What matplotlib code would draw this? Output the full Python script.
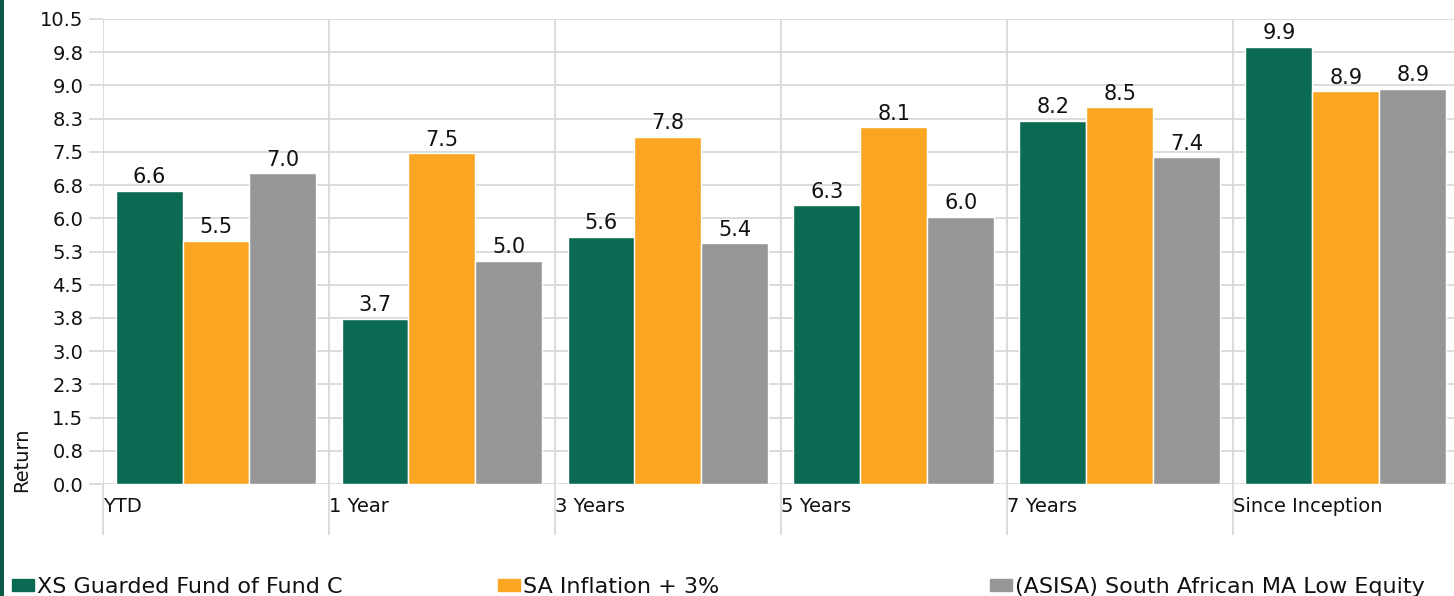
import numpy as np
import matplotlib
matplotlib.use("Agg")
import matplotlib.pyplot as plt
from matplotlib.patches import Rectangle

categories = ["YTD", "1 Year", "3 Years", "5 Years", "7 Years", "Since Inception"]
series_names = ["XS Guarded Fund of Fund C", "SA Inflation + 3%", "(ASISA) South African MA Low Equity"]
fund = [6.62, 3.73, 5.58, 6.30, 8.20, 9.87]
inflation = [5.49, 7.47, 7.84, 8.06, 8.51, 8.87]
peer = [7.02, 5.04, 5.44, 6.03, 7.38, 8.92]
colors = ["#0a6b52", "#fba623", "#979797"]
yticks = [0, 0.75, 1.5, 2.25, 3.0, 3.75, 4.5, 5.25, 6.0, 6.75, 7.5, 8.25, 9.0, 9.75, 10.5]
ytick_labels = ["0.0", "0.8", "1.5", "2.3", "3.0", "3.8", "4.5", "5.3", "6.0", "6.8", "7.5", "8.3", "9.0", "9.8", "10.5"]

W, H = 1454, 596
DPI = 100
FS = 14
grid_c = "#d9d9d9"

fig = plt.figure(figsize=(W / DPI, H / DPI), dpi=DPI)
ax = fig.add_axes([103 / W, (H - 484) / H, 1356 / W, 465 / H])

x = np.arange(len(categories)) + 0.5
bw = 67 / 226
for k, (vals, c) in enumerate(zip([fund, inflation, peer], colors)):
    bars = ax.bar(x + (k - 1) * bw, vals, width=bw, color=c, edgecolor="white", linewidth=1.0, zorder=3)
    for b, v in zip(bars, vals):
        ax.annotate(f"{v:.1f}", (b.get_x() + b.get_width() / 2, v), xytext=(0, 2.5),
                    textcoords="offset points", ha="center", va="bottom", fontsize=15, color="#111111")

ax.set_xlim(0, len(categories))
ax.set_ylim(0, 10.5)
for s in ax.spines.values():
    s.set_visible(False)

ax.set_yticks(yticks)
ax.set_yticklabels(ytick_labels, fontsize=FS, color="#111111")
ax.tick_params(axis="y", length=14 * 72 / DPI, width=1.3, color=grid_c, pad=4)
ax.yaxis.grid(True, color=grid_c, linewidth=1.3)

ax.xaxis.remove_overlapping_locs = False
ax.set_xticks(np.arange(len(categories)))
ax.set_xticklabels(categories, ha="left", fontsize=FS, color="#111111")
ax.tick_params(axis="x", which="major", length=0, pad=9)
ax.set_xticks(np.arange(len(categories) + 1), minor=True)
ax.tick_params(axis="x", which="minor", length=51 * 72 / DPI, width=1.3, color=grid_c)
ax.xaxis.grid(True, which="minor", color=grid_c, linewidth=1.3)
ax.set_axisbelow(True)

ax.set_ylabel("Return", fontsize=FS, color="#111111", loc="bottom")
ax.yaxis.set_label_coords(-0.053, -0.017)

# left border stripe
fig.add_artist(Rectangle((0, 0), 4 / W, 1, transform=fig.transFigure, color="#0b5a45", lw=0))

# legend
leg_x = [12, 498, 990]
for name, c, lx in zip(series_names, colors, leg_x):
    h = Rectangle((0, 0), 1, 1, color=c)
    lg = fig.legend([h], [name], loc="center left", bbox_to_anchor=(lx / W, (H - 587) / H),
                    frameon=False, fontsize=16, handlelength=1.0, handleheight=0.45,
                    handletextpad=0.13, borderpad=0, borderaxespad=0)
    for t in lg.get_texts():
        t.set_color("#111111")

fig.savefig("out.png", dpi=DPI)
